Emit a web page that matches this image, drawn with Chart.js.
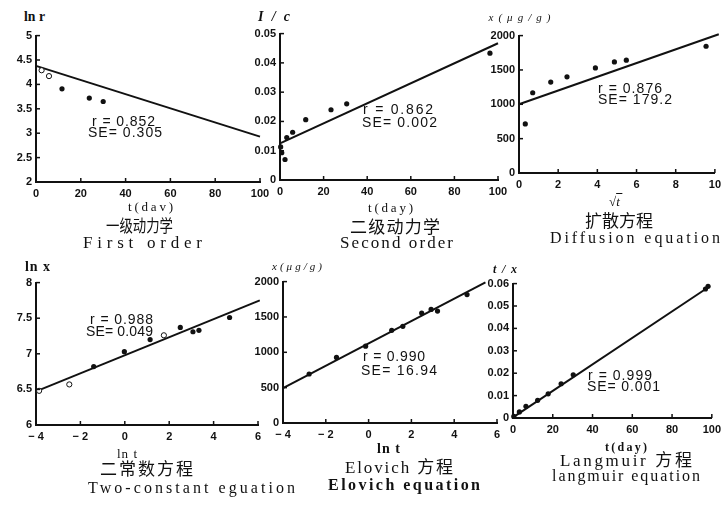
<!DOCTYPE html>
<html><head><meta charset="utf-8">
<script src="https://cdn.jsdelivr.net/npm/chart.js@4.4.1/dist/chart.umd.min.js"></script>
<style>
html,body{margin:0;padding:0;background:#fff;width:726px;height:505px;overflow:hidden;position:relative}
canvas{position:absolute}
.t{position:absolute;white-space:nowrap;line-height:1;color:#111;transform:translateY(-50%);transform-origin:left center}
</style></head><body>
<script>
// ---------- DATA ----------
// 1 First order
const foT = [2.5, 5.8, 11.6, 23.8, 30.0];
const foLnR = [4.29, 4.17, 3.91, 3.72, 3.65];
const foOpen = [true, true, false, false, false];
const foFitT = [0, 100];
const foFitY = [4.38, 2.93];
const foXTicks = [0, 20, 40, 60, 80, 100];
const foYTicks = [2, 2.5, 3, 3.5, 4, 4.5, 5];
// 2 Second order
const soT = [0.3, 0.8, 2.3, 3.1, 5.8, 11.8, 23.4, 30.6, 96.3];
const soY = [0.0113, 0.0093, 0.0070, 0.0145, 0.0163, 0.0206, 0.0240, 0.0260, 0.0433];
const soFitT = [0, 100];
const soFitY = [0.0125, 0.0467];
const soXTicks = [0, 20, 40, 60, 80, 100];
const soYTicks = [0, 0.01, 0.02, 0.03, 0.04, 0.05];
// 3 Diffusion
const dfSqrtT = [0.32, 0.70, 1.62, 2.45, 3.9, 4.87, 5.48, 9.55];
const dfX = [714, 1168, 1323, 1400, 1530, 1617, 1642, 1845];
const dfFitS = [0, 10.2];
const dfFitX = [1000, 2020];
const dfXTicks = [0, 2, 4, 6, 8, 10];
const dfYTicks = [0, 500, 1000, 1500, 2000];
// 4 Two-constant
const tcLnT = [-3.86, -2.5, -1.4, -0.02, 1.14, 1.76, 2.5, 3.07, 3.34, 4.72];
const tcLnX = [6.48, 6.57, 6.82, 7.03, 7.2, 7.26, 7.37, 7.31, 7.33, 7.51];
const tcOpen = [true, true, false, false, false, true, false, false, false, false];
const tcFitT = [-3.86, 6.08];
const tcFitY = [6.49, 7.75];
const tcXTicks = [-4, -2, 0, 2, 4, 6];
const tcYTicks = [6, 6.5, 7, 7.5, 8];
// 5 Elovich
const elLnT = [-2.78, -1.5, -0.14, 1.08, 1.6, 2.48, 2.92, 3.22, 4.6];
const elX = [693, 927, 1087, 1311, 1368, 1555, 1607, 1583, 1817];
const elFitT = [-4, 5.46];
const elFitX = [492, 1990];
const elXTicks = [-4, -2, 0, 2, 4, 6];
const elYTicks = [0, 500, 1000, 1500, 2000];
// 6 Langmuir
const lgT = [0.4, 3.2, 6.5, 12.4, 17.7, 24.2, 30.3, 96.8, 98.1];
const lgY = [0.0007, 0.0027, 0.0052, 0.0079, 0.0108, 0.0153, 0.0193, 0.0576, 0.0588];
const lgFitT = [0, 99];
const lgFitY = [0.0003, 0.0588];
const lgXTicks = [0, 20, 40, 60, 80, 100];
const lgYTicks = [0, 0.01, 0.02, 0.03, 0.04, 0.05, 0.06];

// ---------- LAYOUT ----------
const YW = 34, PT = 10, PR = 16, XH = 22;
const INK = '#111';
const tickFont = {family: '"Liberation Sans", Arial, sans-serif', size: 11, weight: 'bold'};

const inwardTicks = {
  id: 'inwardTicks',
  afterDraw(chart) {
    const ctx = chart.ctx, a = chart.chartArea;
    ctx.save(); ctx.strokeStyle = INK; ctx.lineWidth = 1.5;
    const xs = chart.scales.x, ys = chart.scales.y;
    xs.ticks.forEach(t => { const p = xs.getPixelForValue(t.value);
      ctx.beginPath(); ctx.moveTo(p, a.bottom); ctx.lineTo(p, a.bottom - 4); ctx.stroke(); });
    ys.ticks.forEach(t => { const p = ys.getPixelForValue(t.value);
      ctx.beginPath(); ctx.moveTo(a.left, p); ctx.lineTo(a.left + 4, p); ctx.stroke(); });
    ctx.restore();
  }
};

function fmt(v) { return v < 0 ? '\u2212 ' + Math.abs(v) : String(v); }

function makeChart(area, xs, ys, open, fitX, fitY, xTicks, yTicks, pr) {
  const pad = pr === undefined ? PR : pr;
  const cv = document.createElement('canvas');
  const w = (area.r - area.l) + YW + pad, h = (area.b - area.t) + PT + XH;
  cv.width = w; cv.height = h;
  cv.style.left = (area.l - YW) + 'px'; cv.style.top = (area.t - PT) + 'px';
  document.body.appendChild(cv);
  const pts = xs.map((x, i) => ({x: x, y: ys[i]}));
  const openArr = open || xs.map(() => false);
  const fit = fitX.map((x, i) => ({x: x, y: fitY[i]}));
  new Chart(cv, {
    type: 'scatter',
    data: {datasets: [
      {data: fit, showLine: true, borderColor: INK, borderWidth: 2, pointRadius: 0, clip: false, order: 2},
      {data: pts, pointRadius: 2.6, clip: false, order: 1,
       backgroundColor: openArr.map(o => o ? '#fff' : INK),
       borderColor: INK, borderWidth: openArr.map(o => o ? 1 : 0)}
    ]},
    options: {
      responsive: false, animation: false, devicePixelRatio: 1,
      layout: {padding: {left: 0, top: PT, right: pad, bottom: 0}},
      plugins: {legend: {display: false}, tooltip: {enabled: false}},
      scales: {
        x: {type: 'linear', min: xTicks[0], max: xTicks[xTicks.length - 1],
            afterFit: s => { s.height = XH; },
            afterBuildTicks: s => { s.ticks = xTicks.map(v => ({value: v})); },
            grid: {display: false, drawTicks: false},
            border: {display: true, color: INK, width: 2},
            ticks: {color: INK, font: tickFont, padding: 5, maxRotation: 0, autoSkip: false, callback: v => fmt(v)}},
        y: {type: 'linear', min: yTicks[0], max: yTicks[yTicks.length - 1],
            afterFit: s => { s.width = YW; },
            afterBuildTicks: s => { s.ticks = yTicks.map(v => ({value: v})); },
            grid: {display: false, drawTicks: false},
            border: {display: true, color: INK, width: 2},
            ticks: {color: INK, font: tickFont, padding: 4, autoSkip: false, callback: v => fmt(v)}}
      }
    },
    plugins: [inwardTicks]
  });
}

makeChart({l: 36, t: 35, r: 260, b: 182}, foT, foLnR, foOpen, foFitT, foFitY, foXTicks, foYTicks);
makeChart({l: 280, t: 33, r: 498, b: 180}, soT, soY, null, soFitT, soFitY, soXTicks, soYTicks);
makeChart({l: 519, t: 35, r: 719, b: 173}, dfSqrtT, dfX, null, dfFitS, dfFitX, dfXTicks, dfYTicks, 7);
makeChart({l: 36, t: 282, r: 258, b: 425}, tcLnT, tcLnX, tcOpen, tcFitT, tcFitY, tcXTicks, tcYTicks);
makeChart({l: 283, t: 281, r: 497, b: 423}, elLnT, elX, null, elFitT, elFitX, elXTicks, elYTicks);
makeChart({l: 513, t: 283, r: 720, b: 418}, lgT, lgY, null, lgFitT, lgFitY, lgXTicks, lgYTicks, 6);

// ---------- TEXT ----------
const SERIF = '"Liberation Serif", "DejaVu Serif", serif';
const SANS = '"Liberation Sans", Arial, sans-serif';
const CJK = '"Noto Sans CJK SC", sans-serif';
const mctx = document.createElement('canvas').getContext('2d');
function label(text, x, y, w, size, family, style, anchor) {
  const st = style || '';
  const font = st + ' ' + size + 'px ' + family;
  mctx.font = font;
  const mw = mctx.measureText(text).width;
  const n = [...text].length;
  let ls = n > 1 ? (w - mw) / (n - 1) : 0;
  const d = document.createElement('div');
  d.className = 't';
  d.textContent = text;
  d.style.font = font;
  d.style.lineHeight = '1';
  if (ls < 0) {
    d.style.transform = 'translateY(-50%) scaleX(' + (w / mw) + ')';
    ls = 0;
  }
  d.style.letterSpacing = ls + 'px';
  const left = anchor === 'l' ? x : x - w / 2;
  d.style.left = left + 'px';
  d.style.top = y + 'px';
  document.body.appendChild(d);
  return d;
}
// axis titles (y)
label('ln r', 34.5, 17, 21, 14, SERIF, 'bold');
label('I / c', 274, 17, 32, 14, SERIF, 'italic bold');
label('x(\u03bcg/g)', 519.5, 16.5, 62, 11, SERIF, 'italic');
label('ln x', 37.5, 267, 25, 14, SERIF, 'bold');
label('x(\u03bcg/g)', 297, 266, 50, 11, SERIF, 'italic');
label('t / x', 505, 269, 24, 12, SERIF, 'italic bold');
// axis titles (x)
label('t(dav)', 150.5, 206, 45, 13, SERIF, '');
label('t(day)', 390.5, 206.5, 45, 13, SERIF, '');
(function () {
  const d = document.createElement('div');
  d.className = 't';
  d.style.font = 'italic 13px ' + SERIF;
  d.style.left = '609px'; d.style.top = '202px';
  d.innerHTML = '\u221A<span style="text-decoration:overline">t&thinsp;</span>';
  document.body.appendChild(d);
})();
label('ln t', 127, 452.5, 20, 13, SERIF, '');
label('ln t', 388.5, 449, 23, 14, SERIF, 'bold');
label('t(day)', 626, 446.5, 42, 12, SERIF, 'bold');
// chinese captions
label('一级动力学', 139.5, 224, 67, 17, CJK, '');
label('二级动力学', 395, 225, 90, 17, CJK, '');
label('扩散方程', 619, 218.5, 68, 17, CJK, '');
label('二常数方程', 146.5, 467, 93, 17, CJK, '');
label('Elovich 方程', 399, 467, 108, 17, SERIF + ', ' + CJK, '');
label('Langmuir 方程', 626, 459.5, 132, 17, SERIF + ', ' + CJK, '');
// english captions
label('First order', 142.5, 241.5, 119, 17, SERIF, '');
label('Second order', 396.5, 241.5, 113, 17, SERIF, '');
label('Diffusion equation', 635, 237.5, 170, 16, SERIF, '');
label('Two-constant eguation', 191.5, 488, 207, 16, SERIF, '');
label('Elovich equation', 404, 485, 152, 16, SERIF, 'bold');
label('langmuir equation', 626, 476, 148, 16, SERIF, '');
// statistics
label('r = 0.852', 92, 120.5, 63, 14, SANS, '', 'l');
label('SE= 0.305', 88, 132, 74, 14, SANS, '', 'l');
label('r = 0.862', 363, 109, 70, 14, SANS, '', 'l');
label('SE= 0.002', 362, 121.5, 75, 14, SANS, '', 'l');
label('r = 0.876', 598, 87.5, 64, 14, SANS, '', 'l');
label('SE= 179.2', 598, 99, 74, 14, SANS, '', 'l');
label('r = 0.988', 90, 319, 63, 14, SANS, '', 'l');
label('SE= 0.049', 86, 331, 67, 14, SANS, '', 'l');
label('r = 0.990', 363, 356, 62, 14, SANS, '', 'l');
label('SE= 16.94', 361, 370, 76, 14, SANS, '', 'l');
label('r = 0.999', 588, 375, 64, 14, SANS, '', 'l');
label('SE= 0.001', 587, 386, 73, 14, SANS, '', 'l');
</script>
</body></html>
